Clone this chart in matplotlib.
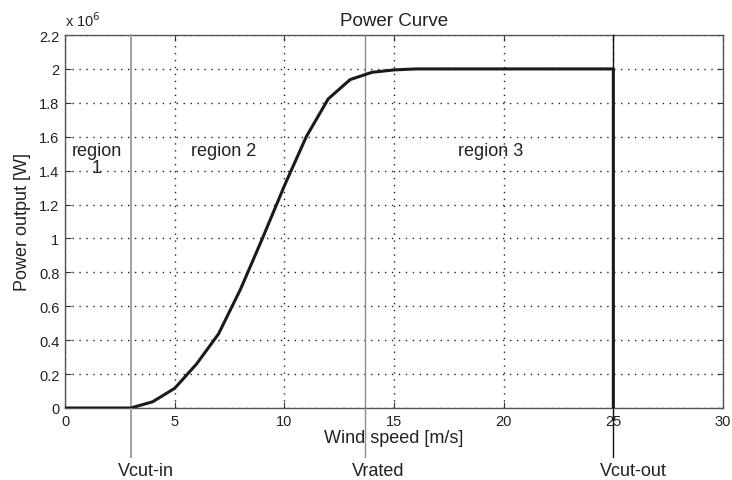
import matplotlib.pyplot as plt
from matplotlib.ticker import FuncFormatter

plt.rcParams['font.family'] = ['Liberation Sans', 'DejaVu Sans']

# power curve data (W)
wind_speed = [0, 1, 2, 3, 4, 5, 6, 7, 8, 9, 10, 11, 12, 13, 14, 15, 16,
              17, 18, 19, 20, 21, 22, 23, 24, 25, 25]
power = [0, 0, 0, 0, 0.037e6, 0.116e6, 0.26e6, 0.437e6, 0.70e6, 1.0e6,
         1.31e6, 1.60e6, 1.823e6, 1.937e6, 1.98e6, 1.994e6, 2.0e6,
         2.0e6, 2.0e6, 2.0e6, 2.0e6, 2.0e6, 2.0e6, 2.0e6, 2.0e6, 2.0e6, 0]

v_cut_in = 3
v_rated = 13.7
v_cut_out = 25
speed_labels = ['Vcut-in', 'Vrated', 'Vcut-out']

regions = ['region\n1', 'region 2', 'region 3']
region_x = [1.46, 7.25, 19.4]
region_y = [1.47e6, 1.52e6, 1.52e6]

txt = '#222222'

fig = plt.figure(figsize=(7.32, 4.81), dpi=100)
ax = fig.add_axes([65 / 732, 1 - 409 / 481, 658 / 732, 373 / 481])

ax.plot(wind_speed, power, color='#1a1a1a', lw=2.2, zorder=4)

# marker lines, running below the axes down to the labels
below = -49 / 373
ax.axvline(v_cut_in, ymin=below, ymax=1, color='#9a9a9a', lw=1.3,
           clip_on=False, zorder=3)
ax.axvline(v_rated, ymin=below, ymax=1, color='#8a8a8a', lw=1.0,
           clip_on=False, zorder=3)
ax.axvline(v_cut_out, ymin=below, ymax=1, color='#111111', lw=1.0,
           clip_on=False, zorder=3)

for xv, lab in zip([v_cut_in, v_rated, v_cut_out], speed_labels):
    ax.annotate(lab, xy=(xv, 0), xycoords=('data', 'axes fraction'),
                xytext=(-9.5, -48), textcoords='offset points',
                ha='left', va='baseline', fontsize=13, color=txt)

for lab, rx, ry in zip(regions, region_x, region_y):
    ax.text(rx, ry, lab, ha='center', va='center', fontsize=13,
            color=txt, linespacing=1.0)

ax.set_xlim(0, 30)
ax.set_ylim(0, 2.2e6)
ax.set_xticks([0, 5, 10, 15, 20, 25, 30])
ax.set_yticks([i * 0.2e6 for i in range(12)])
ax.yaxis.set_major_formatter(FuncFormatter(lambda v, p: '%g' % round(v / 1e6, 1)))

ax.grid(True, color='#222222', linestyle=(0, (1, 4)), lw=1.0)
ax.tick_params(direction='in', top=True, right=True, labelsize=10.5,
               length=4, pad=4, colors='#333333', labelcolor=txt)
for s in ax.spines.values():
    s.set_color('#555555')
    s.set_linewidth(1.0)

ax.text(0, 1.015, r'x 10$^6$', transform=ax.transAxes, fontsize=10.5,
        color=txt, ha='left', va='bottom')

ax.set_title('Power Curve', fontsize=13.5, color=txt, pad=7)
ax.set_xlabel('Wind speed [m/s]', fontsize=13, color=txt, labelpad=1)
ax.set_ylabel('Power output [W]', fontsize=13, color=txt, labelpad=6)

fig.savefig('out.png', dpi=100)
